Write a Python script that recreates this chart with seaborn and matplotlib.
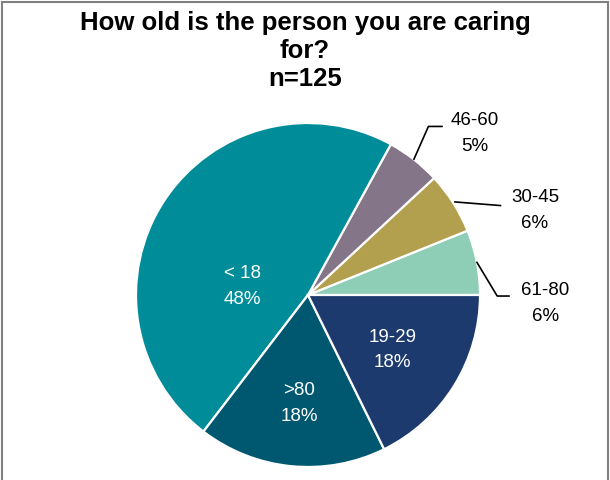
import matplotlib
matplotlib.use("Agg")
import matplotlib.pyplot as plt
import seaborn as sns
import numpy as np
from matplotlib.patches import Rectangle

# Data (counter-clockwise from 3 o'clock)
categories = ["61-80", "30-45", "46-60", "< 18", ">80", "19-29"]
shares = [6.1, 5.8, 5.1, 47.6, 17.7, 17.7]
colors = ["#8ECDB6", "#B3A04E", "#857588", "#008C99", "#005870", "#1C3A6E"]
title = "How old is the person you are caring\nfor?\nn=125"

sns.set_theme(style="white")
plt.rcParams["font.family"] = ["Liberation Sans", "DejaVu Sans"]
palette = sns.color_palette(colors)

fig = plt.figure(figsize=(6.1, 4.8), dpi=100)
W, H = 610, 480
cx, cy, R = 308, 295, 172
ax = fig.add_axes([(cx - R) / W, (H - cy - R) / H, 2 * R / W, 2 * R / H])

wedges, _ = ax.pie(shares, colors=palette, startangle=0, counterclock=True,
                   radius=1.0, wedgeprops=dict(edgecolor="white", linewidth=1.6))
ax.set_xlim(-1, 1)
ax.set_ylim(-1, 1)
ax.set_aspect("equal")
ax.axis("off")

labels = [f"{c}\n{round(s):.0f}%" for c, s in zip(categories, shares)]

# inside labels
inside = {3: (-0.38, 0.05), 4: (-0.05, -0.63), 5: (0.49, -0.32)}
for i, (x, y) in inside.items():
    ax.text(x, y, labels[i], color="white", ha="center", va="center",
            fontsize=13.5, linespacing=1.65)

# outside labels with leader lines
outside = {
    2: dict(start=1.0, path=[(0.70, 0.98), (0.78, 0.98)], text=(0.97, 0.94)),
    1: dict(start=1.01, path=[(1.12, 0.52)], text=(1.32, 0.49)),
    0: dict(start=1.0, path=[(1.10, -0.006), (1.17, -0.006)], text=(1.38, -0.05)),
}
for i, spec in outside.items():
    w = wedges[i]
    mid = np.deg2rad((w.theta1 + w.theta2) / 2)
    pts = [(spec["start"] * np.cos(mid), spec["start"] * np.sin(mid))] + spec["path"]
    xs, ys = zip(*pts)
    ax.plot(xs, ys, color="black", lw=1.2, clip_on=False)
    ax.text(spec["text"][0], spec["text"][1], labels[i], color="black",
            ha="center", va="center", fontsize=13.5, linespacing=1.65)

fig.text(0.5, 1 - 11 / H, title, ha="center", va="top", fontsize=18.5,
         fontweight="bold", linespacing=1.2, color="black")

fig.patches.append(Rectangle((1.5 / W, -0.02), (606 / W), 1.02 - 1.5 / H,
                             transform=fig.transFigure, fill=False,
                             edgecolor="#808080", linewidth=1.5))

fig.savefig("out.png", dpi=100)
